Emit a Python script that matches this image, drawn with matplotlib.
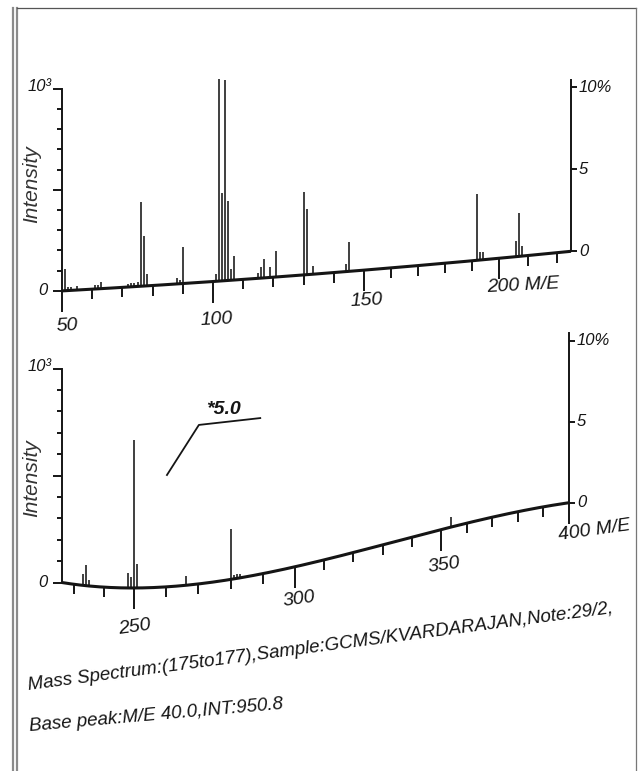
import numpy as np
import matplotlib
matplotlib.use("Agg")
import matplotlib.pyplot as plt
from matplotlib.transforms import Transform, ScaledTranslation
from matplotlib.lines import Line2D

# ---------------- data ----------------
top_mz = [51, 52, 53, 55, 61, 62, 63, 72, 73, 74, 75, 76, 77, 78, 88, 89, 90,
          101, 102, 103, 104, 105, 106, 107, 115, 116, 117, 119, 121,
          130, 131, 133, 144, 145, 192, 193, 194, 206, 207, 208]
top_int = [110, 20, 18, 20, 20, 20, 35, 15, 20, 20, 25, 430, 255, 60, 30, 20, 188,
           40, 1060, 460, 1055, 420, 60, 125, 27, 58, 100, 58, 137,
           450, 360, 43, 43, 160, 390, 45, 45, 92, 258, 63]

bot_mz = [233, 234, 235, 248, 249, 250, 251, 266, 280, 281, 282, 283, 354]
bot_int = [55, 99, 28, 70, 55, 715, 114, 45, 255, 22, 22, 20, 55]

top_xticks = list(range(50, 221, 10))
top_major = [50, 100, 150, 200]
top_labels = ["50", "100", "150", "200 M/E"]
bot_xticks = list(range(230, 401, 10))
bot_major = [250, 300, 350, 400]
bot_labels = ["250", "300", "350", "400 M/E"]
y_ticks = list(range(0, 1001, 100))
right_ticks = [0, 500, 1000]
right_labels = ["0", "5", "10%"]
left_labels = ["0", "10³"]
ylabel = "Intensity"
caption1 = "Mass Spectrum:(175to177),Sample:GCMS/KVARDARAJAN,Note:29/2,"
caption2 = "Base peak:M/E 40.0,INT:950.8"
scale_note = "*5.0"

# ---------------- figure ----------------
W, H, DPI = 643, 771, 100
fig = plt.figure(figsize=(W / DPI, H / DPI), dpi=DPI)
fig.patch.set_facecolor("white")
FONT = ["Liberation Sans Narrow", "Liberation Sans", "DejaVu Sans"]
INK = "#151515"


def interp_ext(x, xp, fp):
    x = np.asarray(x, float)
    xp = np.asarray(xp, float)
    fp = np.asarray(fp, float)
    y = np.interp(x, xp, fp)
    lo = x < xp[0]
    hi = x > xp[-1]
    y[lo] = fp[0] + (x[lo] - xp[0]) * (fp[1] - fp[0]) / (xp[1] - xp[0])
    y[hi] = fp[-1] + (x[hi] - xp[-1]) * (fp[-1] - fp[-2]) / (xp[-1] - xp[-2])
    return y


class Warp(Transform):
    """Perspective-like warp of the axes box (photographed paper chart)."""
    input_dims = 2
    output_dims = 2
    is_separable = False
    has_inverse = False

    def __init__(self, xk, xo, bk, bo, deg, s1):
        super().__init__()
        self.xk, self.xo, self.s1 = xk, xo, s1
        self.poly = np.polyfit(bk, bo, deg)

    def transform_non_affine(self, values):
        v = np.asarray(values, float).reshape(-1, 2)
        u = interp_ext(v[:, 0], self.xk, self.xo)
        b = np.polyval(self.poly, u)
        s = 1.0 + (self.s1 - 1.0) * u
        return np.column_stack([u, b + v[:, 1] * s])


def off(tr, dx, dy):
    return tr + ScaledTranslation(dx / DPI, dy / DPI, fig.dpi_scale_trans)


def panel(L, Wp, Yb, Hp, xlim, kmz, kpx, bpx, boff, deg, ytop_px,
          mz, inten, xticks, major, labels, label_off, rot,
          right_top):
    ax = fig.add_axes([L / W, (H - Yb) / H, Wp / W, Hp / H])
    ax.set_xlim(*xlim)
    ax.set_ylim(0, 1000)
    ax.axis("off")
    xk = [(m - xlim[0]) / (xlim[1] - xlim[0]) for m in kmz]
    xo = [(p - L) / Wp for p in kpx]
    bk = [(p - L) / Wp for p in bpx]
    bo = [o / Hp for o in boff]
    warp = Warp(xk, xo, bk, bo, deg, ytop_px / Hp)
    tr = ax.transScale + ax.transLimits + warp + ax.transAxes

    # baseline
    xs = np.linspace(xlim[0], xlim[1], 400)
    ax.plot(xs, np.zeros_like(xs), color=INK, lw=2.2, transform=tr,
            clip_on=False, solid_capstyle="butt")
    # peaks
    ax.vlines(mz, 0, inten, colors=INK, lw=1.15, transform=tr, clip_on=False)
    # left axis
    ax.plot([xlim[0], xlim[0]], [0, 1000], color=INK, lw=1.4,
            transform=tr, clip_on=False)
    minor_y = [t for t in y_ticks if t not in (0, 500, 1000)]
    ax.plot([xlim[0]] * len(minor_y), minor_y, ls="none",
            marker=[(0, 0), (-1, 0)], ms=7, mew=1.4, color=INK,
            transform=tr, clip_on=False)
    ax.plot([xlim[0]] * 3, [0, 500, 1000], ls="none",
            marker=[(0, 0), (-1, 0)], ms=13, mew=1.4, color=INK,
            transform=tr, clip_on=False)
    ax.text(xlim[0], 0, left_labels[0], transform=off(tr, -19, 0),
            ha="center", va="center", fontsize=12, style="italic",
            family=FONT, color=INK)
    ax.text(xlim[0], 1000, left_labels[1], transform=off(tr, -10, 2),
            ha="right", va="center", fontsize=12, style="italic",
            family=FONT, color=INK)
    # right axis
    ax.plot([xlim[1], xlim[1]], [0, right_top], color=INK, lw=1.4,
            transform=tr, clip_on=False)
    ax.plot([xlim[1]] * 3, right_ticks, ls="none",
            marker=[(0, 0), (1, 0)], ms=9, mew=1.4, color=INK,
            transform=tr, clip_on=False)
    for t, lab in zip(right_ticks, right_labels):
        ax.text(xlim[1], t, lab, transform=off(tr, 8, 0), ha="left",
                va="center", fontsize=12, style="italic", family=FONT,
                color=INK)
    # x ticks
    minor_x = [t for t in xticks if t not in major]
    ax.plot(minor_x, [0] * len(minor_x), ls="none",
            marker=[(0, 0), (0, -1)], ms=15, mew=1.4, color=INK,
            transform=tr, clip_on=False)
    ax.plot(major, [0] * len(major), ls="none",
            marker=[(0, 0), (0, -1)], ms=30, mew=1.4, color=INK,
            transform=tr, clip_on=False)
    for t, lab, (dx, dy) in zip(major, labels, label_off):
        ha = "left" if "M/E" in lab else "center"
        ax.text(t, 0, lab, transform=off(tr, dx, dy), ha=ha, va="center",
                fontsize=14, style="italic", family=FONT, color=INK,
                rotation=rot, rotation_mode="anchor")
    return ax, tr


# top panel
ax1, tr1 = panel(
    L=62, Wp=509, Yb=290, Hp=202, xlim=(50, 225),
    kmz=[50, 100, 150, 200, 225], kpx=[62, 213, 364, 499, 571],
    bpx=[62, 213, 330, 364, 499, 571], boff=[0, 6, 17, 22, 32, 38], deg=2,
    ytop_px=164, mz=top_mz, inten=top_int, xticks=top_xticks,
    major=top_major, labels=top_labels,
    label_off=[(5, -35), (4, -38), (3, -31), (-12, -29)], rot=3,
    right_top=1045)

# bottom panel
ax2, tr2 = panel(
    L=62, Wp=507, Yb=582, Hp=214, xlim=(226, 400),
    kmz=[226, 250, 300, 350, 400], kpx=[62, 134, 295, 441, 569],
    bpx=[62, 134, 199, 233, 295, 356, 441, 518, 569],
    boff=[0, -7, -3, 5, 15, 30, 53, 69, 80], deg=3,
    ytop_px=162, mz=bot_mz, inten=bot_int, xticks=bot_xticks,
    major=bot_major, labels=bot_labels,
    label_off=[(1, -39), (4, -33), (3, -36), (-11, -33)], rot=8,
    right_top=1050)

# scale-factor annotation with leader line
ax2.plot([0.207, 0.270, 0.391], [0.50, 0.734, 0.766], color=INK, lw=1.3,
         transform=ax2.transAxes, clip_on=False)
ax2.text(0.284, 0.768, scale_note, transform=ax2.transAxes, ha="left",
         va="bottom", fontsize=14, fontweight="bold", style="italic",
         family=FONT, color=INK)

# y labels
for yc in (184, 478):
    fig.text(32 / W, 1 - yc / H, ylabel, rotation=90, ha="center",
             va="center", fontsize=15, style="italic", family=FONT,
             color="#333333")

# captions
fig.text(28 / W, 1 - 690 / H, caption1, rotation=7.5, rotation_mode="anchor",
         ha="left", va="baseline", fontsize=13.5, style="italic", family=FONT,
         color=INK)
fig.text(30 / W, 1 - 731 / H, caption2, rotation=5, rotation_mode="anchor",
         ha="left", va="baseline", fontsize=13.5, style="italic", family=FONT,
         color=INK)

# page frame of the scan
for x in (13, 17):
    fig.add_artist(Line2D([x / W, x / W], [0, 1 - 8 / H], color="#8a8a8a",
                          lw=1.6, transform=fig.transFigure))
fig.add_artist(Line2D([17 / W, 636 / W], [1 - 8 / H, 1 - 8 / H],
                      color="#555555", lw=0.9, transform=fig.transFigure))
fig.add_artist(Line2D([636 / W, 636 / W], [0, 1 - 8 / H], color="#777777",
                      lw=0.9, transform=fig.transFigure))

fig.savefig("out.png", dpi=DPI, facecolor="white")
